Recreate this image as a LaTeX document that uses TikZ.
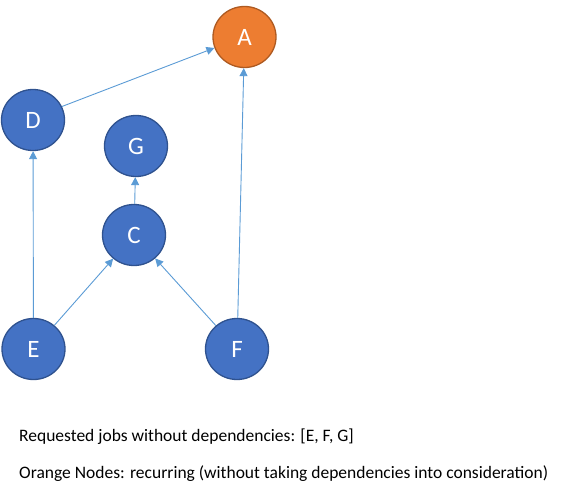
\documentclass[tikz,border=0pt]{standalone}
\usepackage{fontspec}
\setmainfont{Carlito}
\usepackage{tikz}
\usetikzlibrary{arrows.meta,shapes.geometric}

\definecolor{jobblue}{HTML}{4472C4}
\definecolor{jobblueline}{HTML}{2F528F}
\definecolor{joborange}{HTML}{ED7D31}
\definecolor{joborangeline}{HTML}{AE5A21}
\definecolor{deparrow}{HTML}{5B9BD5}

\tikzset{
	jobnode/.style={ellipse, minimum width=63pt, minimum height=61pt, inner sep=0pt,
		line width=1.3pt, draw=jobblueline, fill=jobblue, text=white,
		font=\fontsize{25}{30}\selectfont},
	recurnode/.style={jobnode, draw=joborangeline, fill=joborange},
	dep/.style={draw=deparrow, line width=0.9pt, -{Triangle[width=8pt,length=8pt]}},
	note/.style={anchor=base west, inner sep=0pt, font=\fontsize{17.5}{21}\selectfont}
}

\begin{document}
\begin{tikzpicture}[x=1pt, y=-1pt]
	\useasboundingbox (0, 0) rectangle (569, 489);

	\node [recurnode] (A) at (244.5, 37) {A};

	\foreach \name/\x/\y in {D/33/120, G/136/146, C/134/235, E/33.5/349, F/237/349} {
		\node [jobnode] (\name) at (\x, \y) {\name};
	}

	\draw [dep] (D.25) -- (A.200);
	\draw [dep] (F) -- (A);
	\draw [dep] (E) -- (D);
	\draw [dep] (C) -- (G);
	\draw [dep] (E) -- (C);
	\draw [dep] (F) -- (C);

	\node [note] (jobs) at (19, 441) {Requested jobs without dependencies: [E, F, G]};
	\node [note] (orange) at (19, 478) {Orange Nodes: recurring (without taking dependencies into consideration)};
\end{tikzpicture}
\end{document}
